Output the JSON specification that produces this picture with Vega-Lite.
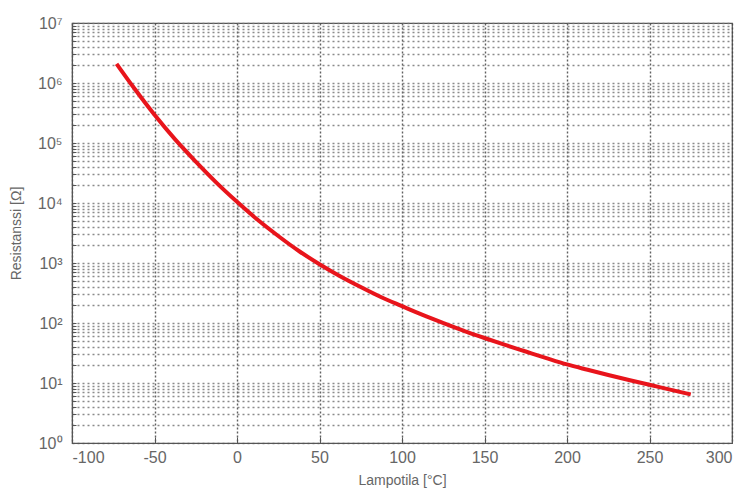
{
  "$schema": "https://vega.github.io/schema/vega-lite/v6.json",
  "width": 660,
  "height": 420,
  "autosize": "none",
  "padding": {"left": 72, "top": 23, "right": 19, "bottom": 48},
  "background": "white",
  "config": {
    "view": {"stroke": "#555", "strokeWidth": 1.2},
    "axis": {
      "labelFont": "Liberation Sans",
      "titleFont": "Liberation Sans",
      "labelColor": "#666",
      "titleColor": "#666",
      "labelFontSize": 16,
      "titleFontSize": 14,
      "titleFontWeight": "normal",
      "domainColor": "#555",
      "tickColor": "#555",
      "gridColor": "#777",
      "gridDash": [2, 3],
      "gridWidth": 1.4,
      "gridOpacity": 0.85
    }
  },
  "data": {
    "values": [
      {"T": -73, "R": 2090000},
      {"T": -62.5, "R": 832000},
      {"T": -50, "R": 295000},
      {"T": -37.5, "R": 114800},
      {"T": -25, "R": 49000},
      {"T": -12.5, "R": 21900},
      {"T": 0, "R": 10470},
      {"T": 12.5, "R": 5248},
      {"T": 25, "R": 2818},
      {"T": 37.5, "R": 1585},
      {"T": 50, "R": 955},
      {"T": 62.5, "R": 603},
      {"T": 75, "R": 398},
      {"T": 87.5, "R": 269},
      {"T": 100, "R": 191},
      {"T": 112.5, "R": 136.5},
      {"T": 125, "R": 100},
      {"T": 137.5, "R": 74.1},
      {"T": 150, "R": 56.2},
      {"T": 162.5, "R": 43.2},
      {"T": 175, "R": 33.5},
      {"T": 187.5, "R": 26.0},
      {"T": 200, "R": 20.4},
      {"T": 212.5, "R": 16.6},
      {"T": 225, "R": 13.6},
      {"T": 237.5, "R": 11.2},
      {"T": 250, "R": 9.33},
      {"T": 262.5, "R": 7.76},
      {"T": 275, "R": 6.46}
    ]
  },
  "mark": {"type": "line", "color": "#e8141b", "strokeWidth": 4, "interpolate": "monotone"},
  "encoding": {
    "x": {
      "field": "T",
      "type": "quantitative",
      "scale": {"domain": [-100, 300], "nice": false, "zero": false},
      "axis": {
        "title": "Lampotila [°C]",
        "values": [-100, -50, 0, 50, 100, 150, 200, 250, 300],
        "labelExpr": "datum.value + ''",
        "tickSize": -6,
        "labelPadding": 12,
        "titlePadding": 8,
        "gridDash": [2, 2],
        "gridColor": "#444"
      }
    },
    "y": {
      "field": "R",
      "type": "quantitative",
      "scale": {"type": "log", "domain": [1, 10000000], "nice": false},
      "axis": {
        "title": "Resistanssi [Ω]",
        "values": [1,2,3,4,5,6,7,8,9,10,20,30,40,50,60,70,80,90,100,200,300,400,500,600,700,800,900,1000,2000,3000,4000,5000,6000,7000,8000,9000,10000,20000,30000,40000,50000,60000,70000,80000,90000,100000,200000,300000,400000,500000,600000,700000,800000,900000,1000000,2000000,3000000,4000000,5000000,6000000,7000000,8000000,9000000,10000000],
        "labelExpr": "abs(log(datum.value)/LN10 - round(log(datum.value)/LN10)) < 0.000001 ? '10' + substring('⁰¹²³⁴⁵⁶⁷', round(log(datum.value)/LN10), round(log(datum.value)/LN10) + 1) : ''",
        "labelOverlap": false,
        "tickSize": -4,
        "labelPadding": 14,
        "titlePadding": 14
      }
    }
  }
}
